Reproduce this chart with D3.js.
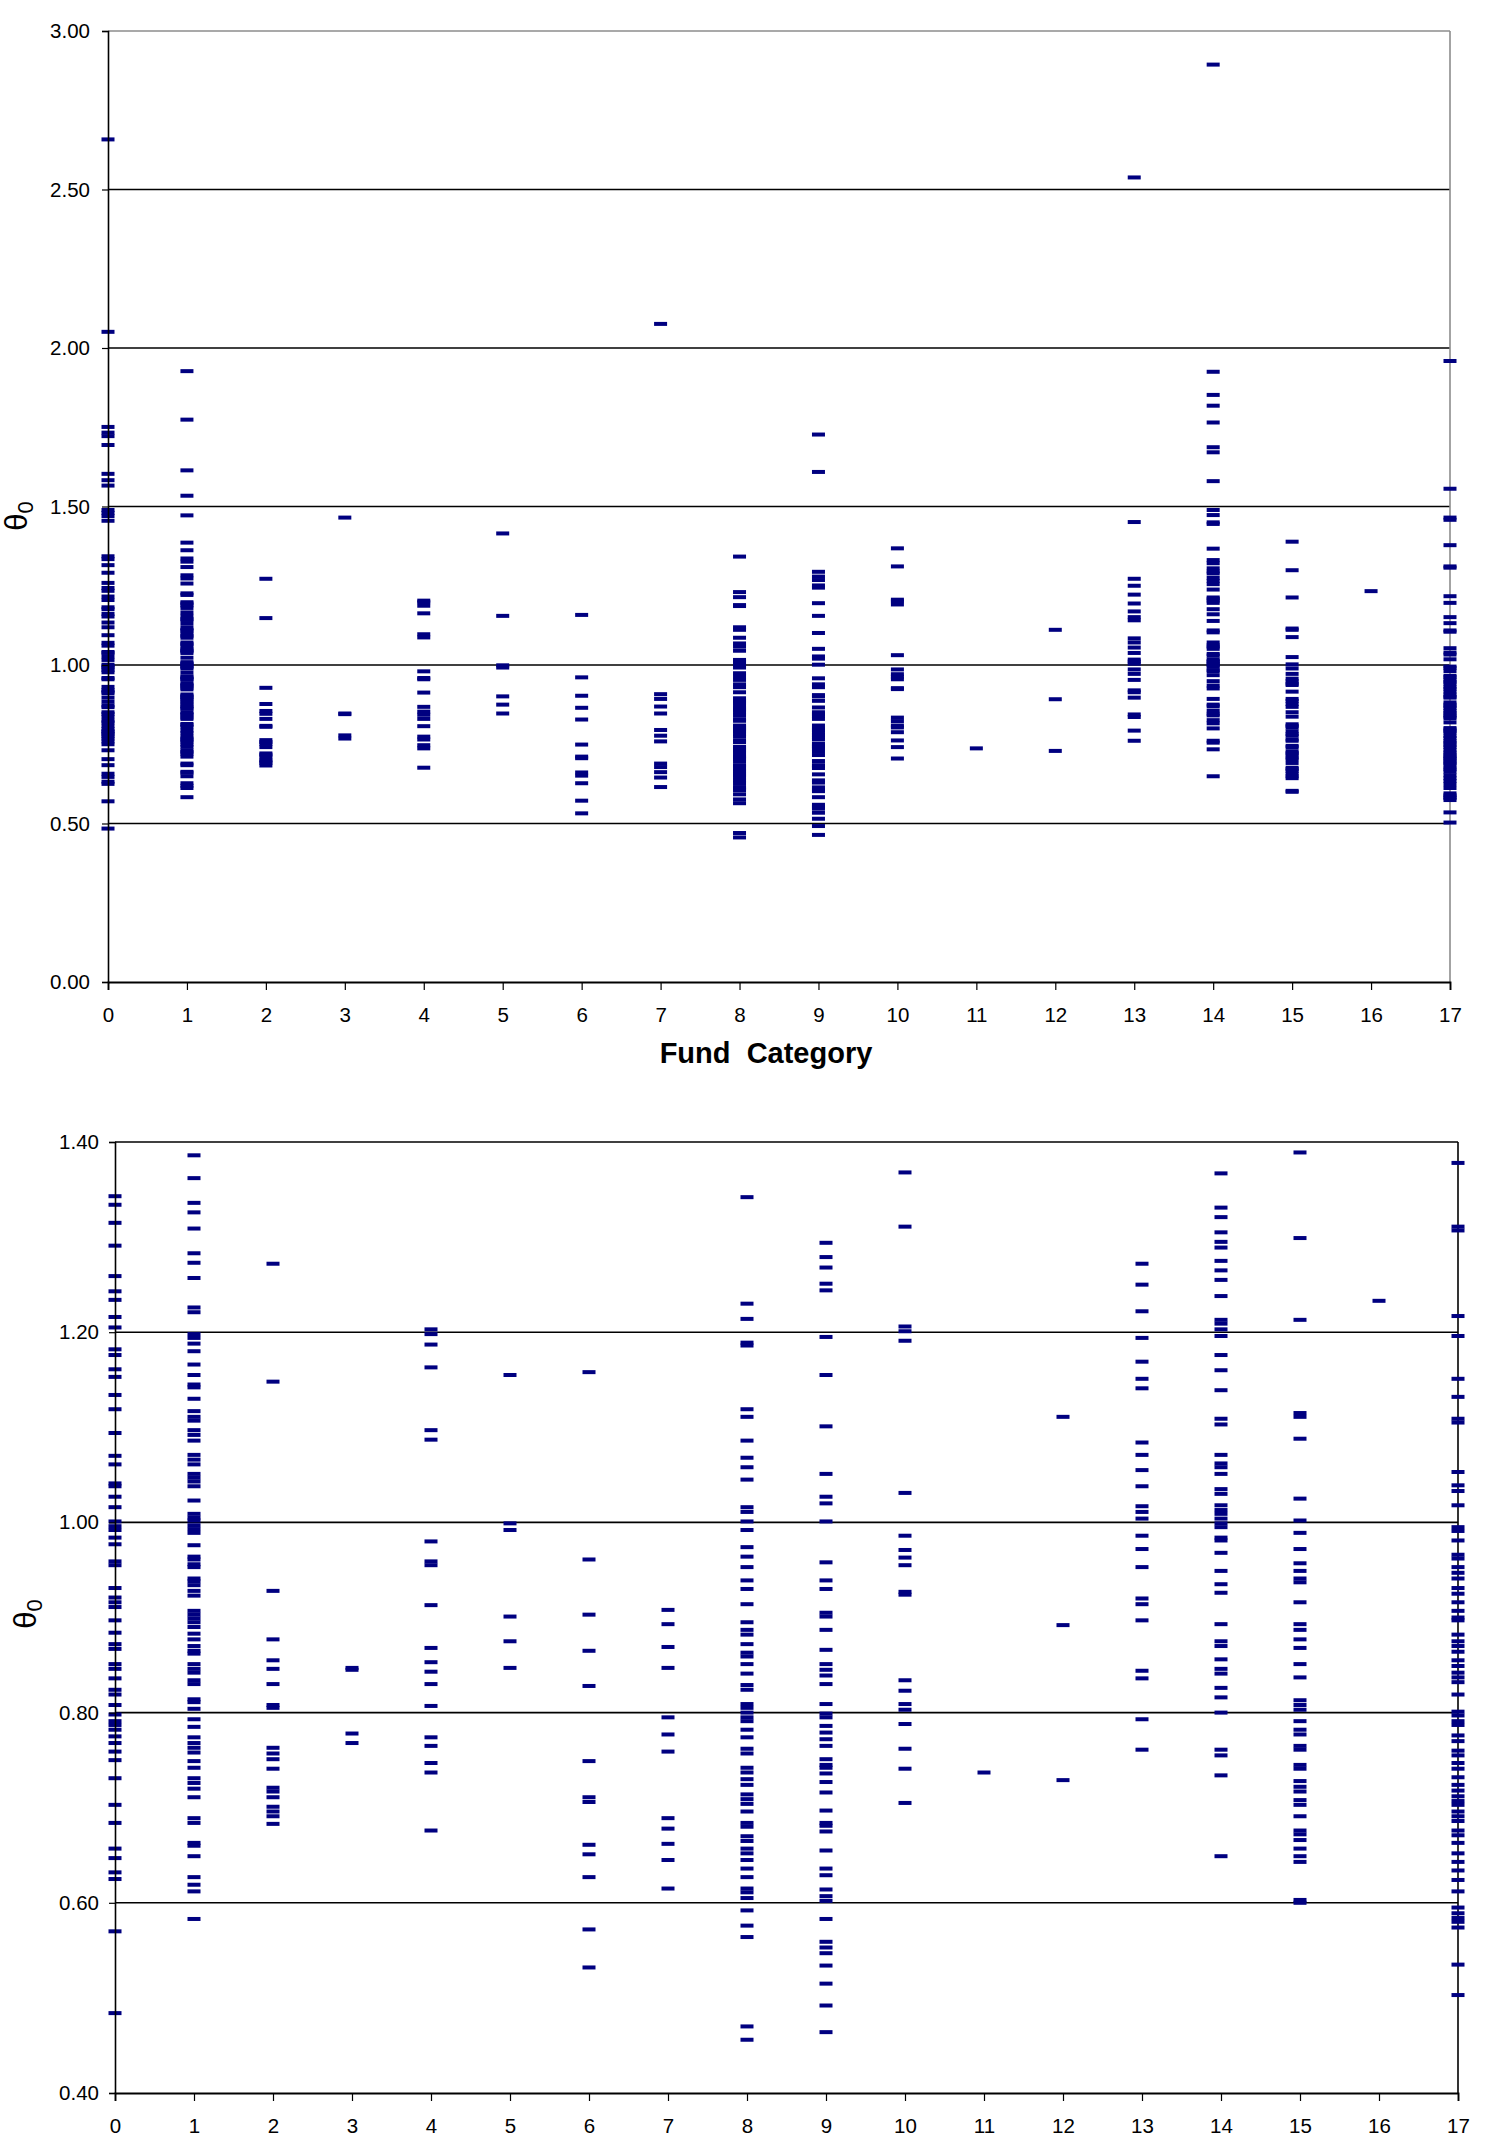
<!DOCTYPE html>
<html>
<head>
<meta charset="utf-8">
<script src="https://cdn.jsdelivr.net/npm/d3@7"></script>
<style>
  html, body { margin: 0; padding: 0; background: #fff; }
  svg { display: block; }
  text { font-family: "Liberation Sans", Arial, sans-serif; fill: #000; }
</style>
</head>
<body>
<svg id="chart" width="1494" height="2140"></svg>
<script>
// ---- Data: theta_0 values per fund category ----
const categories = [0,1,2,3,4,5,6,7,8,9,10,11,12,13,14,15,16,17];

const cat0 = [2.658, 2.051, 1.751, 1.733, 1.722, 1.694, 1.603, 1.583, 1.566, 1.489, 1.480, 1.470, 1.455,
  1.343, 1.334, 1.315, 1.291, 1.259, 1.243, 1.234, 1.216, 1.205, 1.182, 1.176, 1.161, 1.153, 1.134, 1.119,
  1.094, 1.070, 1.061, 1.041, 1.038, 1.027, 1.016, 1.001, 0.996, 0.992, 0.984, 0.977, 0.959, 0.955, 0.931,
  0.921, 0.916, 0.911, 0.897, 0.884, 0.872, 0.867, 0.851, 0.846, 0.836, 0.824, 0.819, 0.808, 0.798, 0.791,
  0.787, 0.782, 0.775, 0.768, 0.759, 0.750, 0.731, 0.703, 0.684, 0.657, 0.647, 0.632, 0.625, 0.570, 0.484];
const cat1 = [1.927, 1.774, 1.614, 1.534, 1.472,
  1.386, 1.362, 1.336, 1.326, 1.309, 1.283, 1.273, 1.257, 1.226, 1.221, 1.198, 1.194, 1.188, 1.180, 1.166,
  1.155, 1.145, 1.142, 1.130, 1.117, 1.111, 1.107, 1.097, 1.092, 1.086, 1.071, 1.066, 1.061, 1.051, 1.047,
  1.043, 1.038, 1.023, 1.009, 1.005, 1.002, 0.997, 0.993, 0.989, 0.976, 0.964, 0.961, 0.956, 0.953, 0.941,
  0.938, 0.934, 0.928, 0.923, 0.907, 0.903, 0.899, 0.895, 0.890, 0.883, 0.877, 0.870, 0.865, 0.862, 0.851,
  0.846, 0.842, 0.834, 0.830, 0.814, 0.811, 0.804, 0.793, 0.785, 0.774, 0.768, 0.763, 0.758, 0.749, 0.742,
  0.731, 0.726, 0.720, 0.711, 0.689, 0.684, 0.663, 0.660, 0.649, 0.627, 0.619, 0.612, 0.583];
const cat2 = [1.272, 1.148, 0.928, 0.877, 0.855, 0.846, 0.830, 0.808, 0.805, 0.763, 0.757, 0.751, 0.741,
  0.721, 0.717, 0.711, 0.701, 0.696, 0.691, 0.683];
const cat3 = [1.465, 0.847, 0.845, 0.778, 0.768];
const cat4 = [1.203, 1.198, 1.187, 1.163, 1.097, 1.087, 0.980, 0.959, 0.955, 0.913, 0.868, 0.853, 0.843,
  0.830, 0.807, 0.774, 0.765, 0.747, 0.737, 0.676];
const cat5 = [1.415, 1.155, 0.999, 0.992, 0.901, 0.875, 0.847];
const cat6 = [1.158, 0.961, 0.903, 0.865, 0.828, 0.749, 0.711, 0.706, 0.661, 0.651, 0.627, 0.572, 0.532];
const cat7 = [2.076, 0.908, 0.893, 0.869, 0.847, 0.795, 0.777, 0.759, 0.689, 0.678, 0.662, 0.645, 0.615];
const cat8 = [1.342, 1.230, 1.214, 1.189, 1.186, 1.119, 1.111, 1.086, 1.068, 1.058, 1.045, 1.016, 1.011,
  1.001, 0.992, 0.974, 0.964, 0.953, 0.939, 0.930, 0.914, 0.895, 0.887, 0.882, 0.872, 0.863, 0.859, 0.851,
  0.841, 0.829, 0.824, 0.809, 0.805, 0.800, 0.795, 0.791, 0.782, 0.774, 0.762, 0.757, 0.742, 0.737, 0.730,
  0.724, 0.714, 0.709, 0.704, 0.696, 0.684, 0.680, 0.670, 0.665, 0.657, 0.652, 0.645, 0.636, 0.627, 0.615,
  0.611, 0.605, 0.592, 0.576, 0.564, 0.470, 0.456];
const cat9 = [1.727, 1.609, 1.294, 1.279, 1.268, 1.251, 1.244, 1.195, 1.155, 1.101, 1.051, 1.027, 1.020,
  1.001, 0.958, 0.939, 0.930, 0.905, 0.901, 0.887, 0.866, 0.851, 0.845, 0.839, 0.830, 0.809, 0.799, 0.795,
  0.786, 0.779, 0.772, 0.765, 0.751, 0.745, 0.742, 0.736, 0.727, 0.716, 0.697, 0.684, 0.681, 0.675, 0.655,
  0.636, 0.629, 0.614, 0.607, 0.602, 0.583, 0.559, 0.553, 0.547, 0.534, 0.515, 0.492, 0.464];
const cat10 = [1.368, 1.311, 1.206, 1.201, 1.191, 1.031, 0.986, 0.971, 0.963, 0.955, 0.927, 0.924, 0.834,
  0.823, 0.809, 0.803, 0.788, 0.762, 0.741, 0.705];
const cat11 = [0.737];
const cat12 = [1.111, 0.892, 0.729];
const cat13 = [2.538, 1.451, 1.272, 1.250, 1.222, 1.194, 1.169, 1.151, 1.141, 1.084, 1.071, 1.055, 1.038,
  1.017, 1.011, 1.004, 0.986, 0.972, 0.953, 0.920, 0.914, 0.897, 0.844, 0.836, 0.793, 0.761];
const cat14 = [2.894, 1.925, 1.852, 1.818, 1.765, 1.687, 1.671, 1.580, 1.489, 1.473, 1.450, 1.445,
  1.367, 1.331, 1.321, 1.305, 1.295, 1.289, 1.275, 1.265, 1.255, 1.238, 1.213, 1.209, 1.203, 1.196, 1.176,
  1.160, 1.139, 1.109, 1.103, 1.071, 1.062, 1.058, 1.051, 1.035, 1.030, 1.018, 1.013, 1.009, 1.004, 0.999,
  0.995, 0.984, 0.981, 0.968, 0.949, 0.935, 0.926, 0.893, 0.875, 0.870, 0.856, 0.846, 0.841, 0.826, 0.816,
  0.800, 0.761, 0.755, 0.734, 0.649];
const cat15 = [1.389, 1.299, 1.213, 1.115, 1.111, 1.088, 1.025, 1.002, 0.989, 0.972, 0.957, 0.949, 0.941,
  0.937, 0.916, 0.893, 0.887, 0.877, 0.868, 0.851, 0.837, 0.813, 0.808, 0.803, 0.791, 0.782, 0.777, 0.765,
  0.761, 0.745, 0.741, 0.728, 0.722, 0.717, 0.708, 0.703, 0.691, 0.676, 0.672, 0.666, 0.657, 0.649, 0.643,
  0.603, 0.600];
const cat16 = [1.233];
const cat17 = [1.959, 1.556, 1.465, 1.458, 1.378, 1.311, 1.307, 1.217, 1.196, 1.151, 1.132, 1.109, 1.105,
  1.053, 1.039, 1.033, 1.018, 0.995, 0.991, 0.981, 0.966, 0.962, 0.953, 0.947, 0.941, 0.931, 0.925, 0.916,
  0.907, 0.900, 0.897, 0.882, 0.875, 0.870, 0.864, 0.855, 0.849, 0.842, 0.837, 0.832, 0.819, 0.801, 0.797,
  0.791, 0.787, 0.776, 0.770, 0.760, 0.755, 0.747, 0.741, 0.732, 0.724, 0.718, 0.712, 0.707, 0.703, 0.696,
  0.691, 0.686, 0.676, 0.671, 0.663, 0.652, 0.643, 0.634, 0.624, 0.612, 0.595, 0.589, 0.584, 0.580, 0.574,
  0.535, 0.503];

const seriesByCategory = [cat0, cat1, cat2, cat3, cat4, cat5, cat6, cat7, cat8, cat9,
  cat10, cat11, cat12, cat13, cat14, cat15, cat16, cat17];

const yTicksTop = [0, 0.5, 1.0, 1.5, 2.0, 2.5, 3.0];
const yTicksBottom = [0.4, 0.6, 0.8, 1.0, 1.2, 1.4];
const xAxisTitle = "Fund  Category";

// ---- Drawing ----
const svg = d3.select("#chart");
const NAVY = "#000080";

const points = [];
seriesByCategory.forEach((vals, i) => vals.forEach(v => points.push({cat: categories[i], v})));

function drawChart(cfg) {
  const g = svg.append("g");
  const x = d3.scaleLinear().domain([0, 17]).range([cfg.left, cfg.right]);
  const y = d3.scaleLinear().domain(cfg.yDomain).range([cfg.bottom, cfg.top]);

  // gridlines
  g.append("g").selectAll("line")
    .data(cfg.yTicks.filter(t => t > cfg.yDomain[0] && t < cfg.yDomain[1]))
    .join("line")
    .attr("x1", cfg.left).attr("x2", cfg.right)
    .attr("y1", d => y(d)).attr("y2", d => y(d))
    .attr("stroke", "#000").attr("stroke-width", 1.6);

  // top & right border
  g.append("line").attr("x1", cfg.left).attr("x2", cfg.right)
    .attr("y1", cfg.top).attr("y2", cfg.top)
    .attr("stroke", cfg.borderColor).attr("stroke-width", 1.6);
  g.append("line").attr("x1", cfg.right).attr("x2", cfg.right)
    .attr("y1", cfg.top).attr("y2", cfg.bottom)
    .attr("stroke", cfg.borderColor).attr("stroke-width", 1.6);

  // markers (dash)
  const vis = points.filter(p => p.v >= cfg.yDomain[0] && p.v <= cfg.yDomain[1]);
  g.append("g").selectAll("rect").data(vis).join("rect")
    .attr("x", d => x(d.cat) - 6.5)
    .attr("y", d => y(d.v) - 2)
    .attr("width", 13).attr("height", 4)
    .attr("fill", NAVY);

  // y axis
  const yAxis = d3.axisLeft(y).tickValues(cfg.yTicks).tickFormat(d3.format(".2f"))
    .tickSize(6).tickPadding(cfg.yPad);
  const ya = g.append("g").attr("transform", `translate(${cfg.left},0)`).call(yAxis);
  ya.select(".domain").attr("stroke", "#000").attr("stroke-width", 1.6);
  ya.selectAll(".tick line").attr("stroke", "#000").attr("stroke-width", 1.2);
  ya.selectAll("text").attr("font-size", 20.5).attr("font-family", "Liberation Sans, Arial, sans-serif");

  // x axis
  const xAxis = d3.axisBottom(x).tickValues(categories).tickFormat(d3.format("d"))
    .tickSize(8).tickPadding(cfg.xPad);
  const xa = g.append("g").attr("transform", `translate(0,${cfg.bottom})`).call(xAxis);
  xa.select(".domain").attr("stroke", "#000").attr("stroke-width", 1.8);
  xa.selectAll(".tick line").attr("stroke", "#000").attr("stroke-width", 1.2);
  xa.selectAll("text").attr("font-size", 20.5).attr("font-family", "Liberation Sans, Arial, sans-serif");

  // y title theta_0
  const yt = g.append("text")
    .attr("transform", `translate(${cfg.yTitleX},${cfg.yTitleY}) rotate(-90)`)
    .attr("text-anchor", "middle")
    .attr("font-family", "Liberation Sans, Arial, sans-serif");
  yt.append("tspan").attr("font-size", 31).text("θ");
  yt.append("tspan").attr("font-size", 22).attr("dy", 6).text("0");

  if (cfg.xTitle) {
    g.append("text")
      .attr("x", cfg.xTitleX)
      .attr("y", cfg.xTitleY)
      .attr("text-anchor", "middle")
      .attr("font-size", 29).attr("font-weight", "bold")
      .attr("xml:space", "preserve")
      .style("white-space", "pre")
      .text(cfg.xTitle);
  }
}

drawChart({
  left: 108, right: 1450, top: 31, bottom: 982,
  yDomain: [0, 3], yTicks: yTicksTop, borderColor: "#8c8c8c",
  yPad: 12, xPad: 17, yTitleX: 27, yTitleY: 516,
  xTitle: xAxisTitle, xTitleX: 766, xTitleY: 1063
});

drawChart({
  left: 115, right: 1458, top: 1142, bottom: 2093,
  yDomain: [0.4, 1.4], yTicks: yTicksBottom, borderColor: "#000",
  yPad: 10, xPad: 17, yTitleX: 36, yTitleY: 1614,
  xTitle: null
});
</script>
</body>
</html>
